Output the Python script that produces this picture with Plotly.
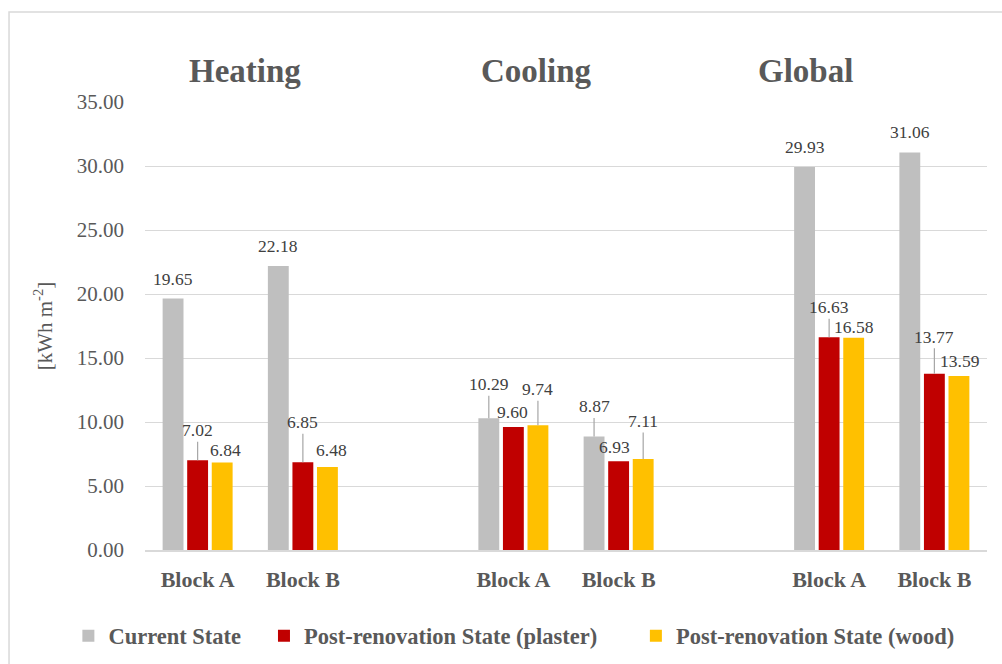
import plotly.graph_objects as go

# Energy demand per block and scenario [kWh m-2]
groups = ["Heating", "Cooling", "Global"]
blocks = ["Block A", "Block B"]
series_names = [
    "Current State",
    "Post-renovation State (plaster)",
    "Post-renovation State (wood)",
]
current = [19.65, 22.18, 10.29, 8.87, 29.93, 31.06]
plaster = [7.02, 6.85, 9.60, 6.93, 16.63, 13.77]
wood = [6.84, 6.48, 9.74, 7.11, 16.58, 13.59]
y_ticks = [0, 5, 10, 15, 20, 25, 30, 35]

# Category slots: one empty slot between groups
x_pos = [0, 1, 3, 4, 6, 7]
x_labels = blocks * len(groups)

colors = ["#BFBFBF", "#C00000", "#FFC000"]
font_family = "Liberation Serif, Times New Roman, serif"
text_grey = "#595959"
label_grey = "#404040"

# each series gets its own legend box so the entries can be spaced freely
legend_ids = ["legend", "legend2", "legend3"]
legend_x = [-0.091, 0.1413, 0.583]

fig = go.Figure()
for name, vals, col, lg in zip(series_names, [current, plaster, wood], colors, legend_ids):
    fig.add_trace(go.Bar(
        x=x_pos, y=vals, name=f"<b>{name}</b>", legend=lg, showlegend=True,
        marker=dict(color=col, line=dict(width=0)),
    ))

# Data label placement per bar: (use leader line, pixel offset, x shift)
label_style = [
    # current state
    [(False, 19, 0), (False, 20, 0), (True, -34, 0), (True, -30, 0), (False, 20, 0), (False, 20, 0)],
    # plaster
    [(True, -30, 0), (True, -40, 0), (False, 15, -1), (False, 14, -4), (True, -30, 0), (True, -37, 0)],
    # wood
    [(False, 12, 3), (False, 17, 4), (True, -36, 0), (True, -38, 0), (False, 11, 0), (False, 15, 1)],
]
bar_offset = [-0.2333, 0.0, 0.2333]

annotations = []
for s, vals in enumerate([current, plaster, wood]):
    for k, v in enumerate(vals):
        leader, off, xs = label_style[s][k]
        xv = x_pos[k] + bar_offset[s]
        base = dict(
            x=xv, y=v, xref="x", yref="y", text=f"{v:.2f}",
            font=dict(family=font_family, size=17.5, color=label_grey),
        )
        if leader:
            annotations.append(dict(
                base, showarrow=True, arrowhead=0, arrowwidth=1.2,
                arrowcolor="#A6A6A6", ax=xs, ay=off, standoff=0,
            ))
        else:
            annotations.append(dict(
                base, showarrow=False, xanchor="center", yanchor="middle",
                yshift=off, xshift=xs,
            ))

# Group titles
title_x = [0.45, 3.22, 5.78]
for g, tx in zip(groups, title_x):
    annotations.append(dict(
        x=tx, y=1.07, xref="x", yref="paper", text=f"<b>{g}</b>",
        showarrow=False, xanchor="center", yanchor="middle",
        font=dict(family=font_family, size=33, color=text_grey),
    ))

legend_common = dict(
    orientation="h", xanchor="left", y=-0.192, yanchor="middle",
    font=dict(family=font_family, size=22.5, color=text_grey),
    itemwidth=30, bgcolor="rgba(0,0,0,0)", visible=True,
)

fig.update_layout(
    width=1002, height=664,
    showlegend=True,
    margin=dict(l=145, r=15, t=102, b=114, autoexpand=False),
    paper_bgcolor="white", plot_bgcolor="white",
    barmode="group", bargap=0.3, bargroupgap=0.15,
    font=dict(family=font_family, color=text_grey),
    xaxis=dict(
        range=[-0.5, 7.5], tickvals=x_pos,
        ticktext=[f"<b>{t}</b>" for t in x_labels],
        tickfont=dict(family=font_family, size=22, color=text_grey),
        showgrid=False, zeroline=False, showline=True, automargin=False,
        linecolor="#D9D9D9", linewidth=1.5, ticks="", ticklabelstandoff=9,
    ),
    yaxis=dict(
        range=[0, 35], tickvals=y_ticks, tickformat=".2f", automargin=False,
        tickfont=dict(family=font_family, size=21, color=text_grey),
        showgrid=True, gridcolor="#D9D9D9", gridwidth=1,
        zeroline=False, ticks="", ticklabelstandoff=20,
        title=dict(text="[kWh m<sup>-2</sup>]", standoff=18,
                   font=dict(family=font_family, size=21, color=text_grey)),
    ),
    legend=dict(legend_common, x=legend_x[0]),
    legend2=dict(legend_common, x=legend_x[1]),
    legend3=dict(legend_common, x=legend_x[2]),
    annotations=annotations,
    shapes=[dict(
        type="rect", xref="paper", yref="paper",
        x0=-0.1615, x1=1.03, y0=-0.3, y1=1.2009,
        line=dict(color="#D9D9D9", width=1.5), fillcolor="rgba(0,0,0,0)",
        layer="below",
    )],
)

fig.write_html("out.html")
